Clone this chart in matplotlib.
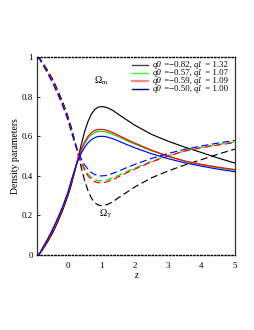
import matplotlib
matplotlib.use('Agg')
import matplotlib.pyplot as plt
from matplotlib.lines import Line2D
from matplotlib.offsetbox import AnchoredOffsetbox, HPacker, VPacker, TextArea, DrawingArea

plt.rcParams['font.family'] = ['Liberation Serif', 'DejaVu Serif']
plt.rcParams['mathtext.fontset'] = 'custom'
plt.rcParams['mathtext.rm'] = 'Liberation Serif'
plt.rcParams['mathtext.it'] = 'Liberation Serif:italic'

# redshift grid, values
z = [-0.93, -0.85, -0.75, -0.6, -0.45, -0.3, -0.15, 0, 0.1, 0.2, 0.3, 0.4, 0.5, 0.6, 0.7,
     0.8, 0.9, 1.0, 1.1, 1.2, 1.35, 1.5, 1.75, 2.0, 2.5, 3.0, 3.5, 4.0, 4.5, 5.0]

om_black = [0.0, 0.006, 0.03, 0.07, 0.115, 0.17, 0.23, 0.30, 0.355, 0.42, 0.49, 0.56, 0.625, 0.675, 0.712,
            0.735, 0.747, 0.75, 0.748, 0.743, 0.73, 0.712, 0.684, 0.656, 0.61, 0.575, 0.545, 0.518, 0.49, 0.465]
ot_black = [1.0, 0.994, 0.97, 0.93, 0.885, 0.83, 0.77, 0.70, 0.645, 0.58, 0.51, 0.44, 0.375, 0.325, 0.288,
            0.265, 0.253, 0.25, 0.252, 0.257, 0.27, 0.288, 0.316, 0.344, 0.39, 0.425, 0.455, 0.482, 0.51, 0.535]

om_green = [0.0, 0.008, 0.036, 0.079, 0.127, 0.182, 0.243, 0.312, 0.37, 0.428, 0.485, 0.528, 0.564, 0.59, 0.608,
            0.619, 0.624, 0.625, 0.623, 0.619, 0.61, 0.599, 0.579, 0.561, 0.527, 0.498, 0.474, 0.456, 0.441, 0.428]
ot_green = [1.0, 0.992, 0.964, 0.921, 0.873, 0.818, 0.757, 0.688, 0.63, 0.572, 0.515, 0.472, 0.436, 0.41, 0.392,
            0.381, 0.376, 0.375, 0.377, 0.381, 0.39, 0.401, 0.421, 0.439, 0.473, 0.502, 0.526, 0.544, 0.559, 0.572]

om_red = [0.0, 0.008, 0.035, 0.078, 0.125, 0.18, 0.24, 0.31, 0.37, 0.43, 0.49, 0.535, 0.572, 0.60, 0.618,
          0.629, 0.634, 0.635, 0.633, 0.628, 0.618, 0.606, 0.585, 0.566, 0.53, 0.50, 0.475, 0.458, 0.444, 0.432]
ot_red = [1.0, 0.992, 0.965, 0.922, 0.875, 0.82, 0.76, 0.69, 0.63, 0.57, 0.51, 0.465, 0.428, 0.40, 0.382,
          0.371, 0.366, 0.365, 0.367, 0.372, 0.382, 0.394, 0.415, 0.434, 0.47, 0.50, 0.525, 0.542, 0.556, 0.568]

om_blue = [0.0, 0.01, 0.04, 0.085, 0.135, 0.19, 0.25, 0.32, 0.378, 0.43, 0.478, 0.515, 0.545, 0.567, 0.583,
           0.593, 0.599, 0.60, 0.599, 0.595, 0.587, 0.577, 0.559, 0.542, 0.512, 0.487, 0.466, 0.449, 0.434, 0.421]
ot_blue = [1.0, 0.99, 0.96, 0.915, 0.865, 0.81, 0.75, 0.68, 0.622, 0.57, 0.522, 0.485, 0.455, 0.433, 0.417,
           0.407, 0.401, 0.40, 0.401, 0.405, 0.413, 0.423, 0.441, 0.458, 0.488, 0.513, 0.534, 0.551, 0.566, 0.579]

# legend parameters
q0_vals = ['\u22120.82', '\u22120.57', '\u22120.59', '\u22120.50']
q1_vals = ['1.32', '1.07', '1.09', '1.00']
legend_colors = ['#444444', '#33ff33', '#ff8888', '#000088']
legend_widths = [1.0, 1.0, 1.5, 1.0]

fig = plt.figure(figsize=(2.55, 3.3), dpi=100)
ax = fig.add_axes([0.145, 0.227, 0.776, 0.6])

series = [(om_black, ot_black, 'black'), (om_green, ot_green, '#00dd00'),
          (om_red, ot_red, '#ff0000'), (om_blue, ot_blue, '#0000ff')]
for om, ot, c in series:
    ax.plot(z, om, color=c, lw=0.85)
    ax.plot(z, ot, color=c, lw=0.85, dashes=(6, 3))

ax.set_xlim(-0.93, 5)
ax.set_ylim(0, 1)
ax.set_xticks([0, 1, 2, 3, 4, 5])
ax.set_yticks([0, 0.2, 0.4, 0.6, 0.8, 1])
ax.set_yticklabels(['0', '0.2', '0.4', '0.6', '0.8', '1'])
ax.tick_params(labelsize=6.5, length=2, width=0.6, direction='in', pad=3)
ax.tick_params(axis='x', length=0, pad=5)
for side in ['top', 'bottom']:
    ax.spines[side].set_linestyle((0, (1, 1.5)))
    ax.spines[side].set_linewidth(1.0)
for side in ['left', 'right']:
    ax.spines[side].set_linewidth(0.9)
    ax.spines[side].set_color('#333333')

ax.set_xlabel('z', fontsize=7, style='italic', labelpad=1)
ax.set_ylabel('Density parameters', fontsize=7, labelpad=1)

ax.text(1.0, 0.88, r'$\Omega_{\mathrm{m}}$', fontsize=7, ha='center', va='center')
ax.text(1.12, 0.21, r'$\Omega_{\mathrm{T}}$', fontsize=7, ha='center', va='center')

# legend rows: line sample, then "q0 =-0.82, q1 = 1.32" with italic q0 / q1
fs = 6.3
rows = []
for q0, q1, col, lw in zip(q0_vals, q1_vals, legend_colors, legend_widths):
    da = DrawingArea(12, 4, 0, 0)
    da.add_artist(Line2D([0, 12], [2, 2], color=col, lw=lw))
    parts = [TextArea('q0', textprops=dict(size=fs, style='italic')),
             TextArea(' =' + q0 + ', ', textprops=dict(size=fs)),
             TextArea('q1', textprops=dict(size=fs, style='italic')),
             TextArea(' = ' + q1, textprops=dict(size=fs))]
    txt = HPacker(children=parts, sep=0, pad=0, align='baseline')
    rows.append(HPacker(children=[da, txt], sep=3.5, pad=0, align='center'))
box = VPacker(children=rows, sep=0, pad=0, align='left')
leg = AnchoredOffsetbox(loc='upper right', child=box, frameon=False, pad=0, borderpad=0,
                        bbox_to_anchor=(0.965, 0.98), bbox_transform=ax.transAxes)
ax.add_artist(leg)

fig.savefig('out.png', dpi=100)
